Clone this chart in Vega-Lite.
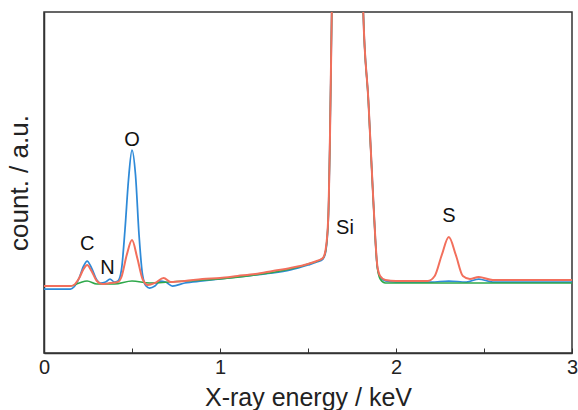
{
  "$schema": "https://vega.github.io/schema/vega-lite/v6.json",
  "width": 528,
  "height": 341,
  "autosize": "none",
  "padding": {"left": 44, "top": 12, "right": 6, "bottom": 57},
  "config": {
    "view": {"stroke": "#333333", "strokeWidth": 1.5},
    "font": "Liberation Sans"
  },
  "datasets": {
    "spec": [
      {"e": 0.00, "y": 289, "s": "blue"}, {"e": 0.15, "y": 289, "s": "blue"}, {"e": 0.17, "y": 287, "s": "blue"},
      {"e": 0.20, "y": 278, "s": "blue"}, {"e": 0.225, "y": 266, "s": "blue"}, {"e": 0.245, "y": 261, "s": "blue"},
      {"e": 0.27, "y": 268, "s": "blue"}, {"e": 0.30, "y": 280, "s": "blue"}, {"e": 0.32, "y": 283, "s": "blue"},
      {"e": 0.35, "y": 282, "s": "blue"}, {"e": 0.375, "y": 279, "s": "blue"}, {"e": 0.40, "y": 282, "s": "blue"},
      {"e": 0.42, "y": 281, "s": "blue"}, {"e": 0.44, "y": 270, "s": "blue"}, {"e": 0.46, "y": 230, "s": "blue"},
      {"e": 0.48, "y": 180, "s": "blue"}, {"e": 0.50, "y": 150, "s": "blue"}, {"e": 0.52, "y": 175, "s": "blue"},
      {"e": 0.54, "y": 235, "s": "blue"}, {"e": 0.56, "y": 275, "s": "blue"}, {"e": 0.58, "y": 286, "s": "blue"},
      {"e": 0.60, "y": 288, "s": "blue"}, {"e": 0.63, "y": 286, "s": "blue"}, {"e": 0.66, "y": 281, "s": "blue"},
      {"e": 0.69, "y": 282, "s": "blue"}, {"e": 0.73, "y": 286, "s": "blue"}, {"e": 0.80, "y": 283, "s": "blue"},
      {"e": 0.90, "y": 281, "s": "blue"}, {"e": 1.00, "y": 279, "s": "blue"}, {"e": 1.10, "y": 277, "s": "blue"},
      {"e": 1.20, "y": 275, "s": "blue"}, {"e": 1.30, "y": 273, "s": "blue"}, {"e": 1.40, "y": 270, "s": "blue"},
      {"e": 1.50, "y": 265, "s": "blue"}, {"e": 1.55, "y": 262, "s": "blue"}, {"e": 1.585, "y": 259, "s": "blue"},
      {"e": 1.60, "y": 252, "s": "blue"}, {"e": 1.615, "y": 220, "s": "blue"}, {"e": 1.625, "y": 135, "s": "blue"},
      {"e": 1.635, "y": 12, "s": "blue"}, {"e": 1.74, "y": -1500, "s": "blue"}, {"e": 1.814, "y": 12, "s": "blue"},
      {"e": 1.843, "y": 100, "s": "blue"}, {"e": 1.871, "y": 200, "s": "blue"}, {"e": 1.894, "y": 267, "s": "blue"},
      {"e": 1.91, "y": 277, "s": "blue"}, {"e": 1.94, "y": 281, "s": "blue"}, {"e": 2.00, "y": 282, "s": "blue"},
      {"e": 2.10, "y": 282, "s": "blue"}, {"e": 2.20, "y": 282, "s": "blue"}, {"e": 2.30, "y": 281, "s": "blue"},
      {"e": 2.40, "y": 282, "s": "blue"}, {"e": 2.47, "y": 279, "s": "blue"}, {"e": 2.55, "y": 282, "s": "blue"},
      {"e": 2.70, "y": 282, "s": "blue"}, {"e": 2.85, "y": 282, "s": "blue"}, {"e": 3.00, "y": 282, "s": "blue"},

      {"e": 0.00, "y": 286, "s": "green"}, {"e": 0.15, "y": 286, "s": "green"}, {"e": 0.20, "y": 283, "s": "green"},
      {"e": 0.245, "y": 281, "s": "green"}, {"e": 0.30, "y": 284, "s": "green"}, {"e": 0.40, "y": 284, "s": "green"},
      {"e": 0.50, "y": 281, "s": "green"}, {"e": 0.60, "y": 283, "s": "green"}, {"e": 0.80, "y": 281, "s": "green"},
      {"e": 1.00, "y": 279, "s": "green"}, {"e": 1.20, "y": 275, "s": "green"}, {"e": 1.40, "y": 269, "s": "green"},
      {"e": 1.50, "y": 264, "s": "green"}, {"e": 1.585, "y": 258, "s": "green"}, {"e": 1.60, "y": 251, "s": "green"},
      {"e": 1.615, "y": 219, "s": "green"}, {"e": 1.625, "y": 135, "s": "green"}, {"e": 1.635, "y": 12, "s": "green"},
      {"e": 1.74, "y": -1500, "s": "green"}, {"e": 1.814, "y": 12, "s": "green"}, {"e": 1.843, "y": 101, "s": "green"},
      {"e": 1.871, "y": 201, "s": "green"}, {"e": 1.894, "y": 268, "s": "green"}, {"e": 1.91, "y": 279, "s": "green"},
      {"e": 1.94, "y": 283, "s": "green"}, {"e": 2.00, "y": 283, "s": "green"}, {"e": 2.50, "y": 283, "s": "green"},
      {"e": 3.00, "y": 283, "s": "green"},

      {"e": 0.00, "y": 286, "s": "red"}, {"e": 0.15, "y": 286, "s": "red"}, {"e": 0.17, "y": 285, "s": "red"},
      {"e": 0.20, "y": 278, "s": "red"}, {"e": 0.225, "y": 269, "s": "red"}, {"e": 0.245, "y": 265, "s": "red"},
      {"e": 0.27, "y": 271, "s": "red"}, {"e": 0.30, "y": 281, "s": "red"}, {"e": 0.33, "y": 284, "s": "red"},
      {"e": 0.375, "y": 283, "s": "red"}, {"e": 0.42, "y": 282, "s": "red"}, {"e": 0.44, "y": 277, "s": "red"},
      {"e": 0.47, "y": 255, "s": "red"}, {"e": 0.50, "y": 240, "s": "red"}, {"e": 0.53, "y": 258, "s": "red"},
      {"e": 0.56, "y": 279, "s": "red"}, {"e": 0.59, "y": 285, "s": "red"}, {"e": 0.63, "y": 283, "s": "red"},
      {"e": 0.68, "y": 278, "s": "red"}, {"e": 0.72, "y": 282, "s": "red"}, {"e": 0.80, "y": 281, "s": "red"},
      {"e": 0.90, "y": 279, "s": "red"}, {"e": 1.00, "y": 278, "s": "red"}, {"e": 1.10, "y": 276, "s": "red"},
      {"e": 1.20, "y": 274, "s": "red"}, {"e": 1.30, "y": 271, "s": "red"}, {"e": 1.40, "y": 268, "s": "red"},
      {"e": 1.50, "y": 264, "s": "red"}, {"e": 1.55, "y": 261, "s": "red"}, {"e": 1.585, "y": 258, "s": "red"},
      {"e": 1.60, "y": 250, "s": "red"}, {"e": 1.615, "y": 218, "s": "red"}, {"e": 1.625, "y": 135, "s": "red"},
      {"e": 1.635, "y": 12, "s": "red"}, {"e": 1.74, "y": -1500, "s": "red"}, {"e": 1.814, "y": 12, "s": "red"},
      {"e": 1.843, "y": 100, "s": "red"}, {"e": 1.871, "y": 200, "s": "red"}, {"e": 1.894, "y": 266, "s": "red"},
      {"e": 1.91, "y": 276, "s": "red"}, {"e": 1.94, "y": 280, "s": "red"}, {"e": 2.00, "y": 281, "s": "red"},
      {"e": 2.10, "y": 281, "s": "red"}, {"e": 2.18, "y": 281, "s": "red"}, {"e": 2.22, "y": 276, "s": "red"},
      {"e": 2.26, "y": 255, "s": "red"}, {"e": 2.30, "y": 237, "s": "red"}, {"e": 2.34, "y": 255, "s": "red"},
      {"e": 2.38, "y": 276, "s": "red"}, {"e": 2.42, "y": 279, "s": "red"}, {"e": 2.47, "y": 277, "s": "red"},
      {"e": 2.55, "y": 280, "s": "red"}, {"e": 2.70, "y": 280, "s": "red"}, {"e": 2.85, "y": 280, "s": "red"},
      {"e": 3.00, "y": 280, "s": "red"}
    ],
    "labels": [
      {"e": 0.245, "y": 244, "t": "C"},
      {"e": 0.36, "y": 268, "t": "N"},
      {"e": 0.50, "y": 140, "t": "O"},
      {"e": 1.71, "y": 228, "t": "Si"},
      {"e": 2.30, "y": 216, "t": "S"}
    ]
  },
  "layer": [
    {
      "data": {"name": "spec"},
      "transform": [{"calculate": "353 - datum.y", "as": "count"}],
      "mark": {"type": "line", "clip": true, "interpolate": "monotone"},
      "encoding": {
        "x": {
          "field": "e", "type": "quantitative",
          "scale": {"domain": [0, 3], "nice": false},
          "axis": {
            "title": "X-ray energy / keV",
            "values": [0, 0.5, 1, 1.5, 2, 2.5, 3],
            "labelExpr": "datum.value % 1 === 0 ? format(datum.value, 'd') : ''",
            "grid": false, "tickSize": -5, "tickColor": "#333333", "domainColor": "#333333", "domainWidth": 1.5,
            "labelFontSize": 20, "labelColor": "#222222", "labelPadding": 9, "labelFlush": false,
            "titleFontSize": 25, "titleFontWeight": "normal", "titleColor": "#222222", "titlePadding": 8
          }
        },
        "y": {
          "field": "count", "type": "quantitative",
          "scale": {"domain": [0, 341], "nice": false},
          "axis": {
            "title": "count. / a.u.", "labels": false, "ticks": false, "grid": false,
            "domainColor": "#333333", "domainWidth": 1.5,
            "titleFontSize": 26, "titleFontWeight": "normal", "titleColor": "#222222", "titlePadding": 12
          }
        },
        "color": {
          "field": "s", "type": "nominal", "legend": null,
          "scale": {"domain": ["green", "blue", "red"], "range": ["#2ea84a", "#2e8ad8", "#f26f5c"]}
        },
        "strokeWidth": {
          "field": "s", "type": "nominal", "legend": null,
          "scale": {"domain": ["green", "blue", "red"], "range": [1.5, 2, 3.2]}
        },
        "order": {"field": "e", "type": "quantitative"},
        "detail": {"field": "s"}
      }
    },
    {
      "data": {"name": "labels"},
      "transform": [{"calculate": "353 - datum.y", "as": "count"}],
      "mark": {"type": "text", "fontSize": 20, "color": "#111111", "baseline": "middle", "align": "center"},
      "encoding": {
        "x": {"field": "e", "type": "quantitative"},
        "y": {"field": "count", "type": "quantitative"},
        "text": {"field": "t"}
      }
    }
  ]
}
